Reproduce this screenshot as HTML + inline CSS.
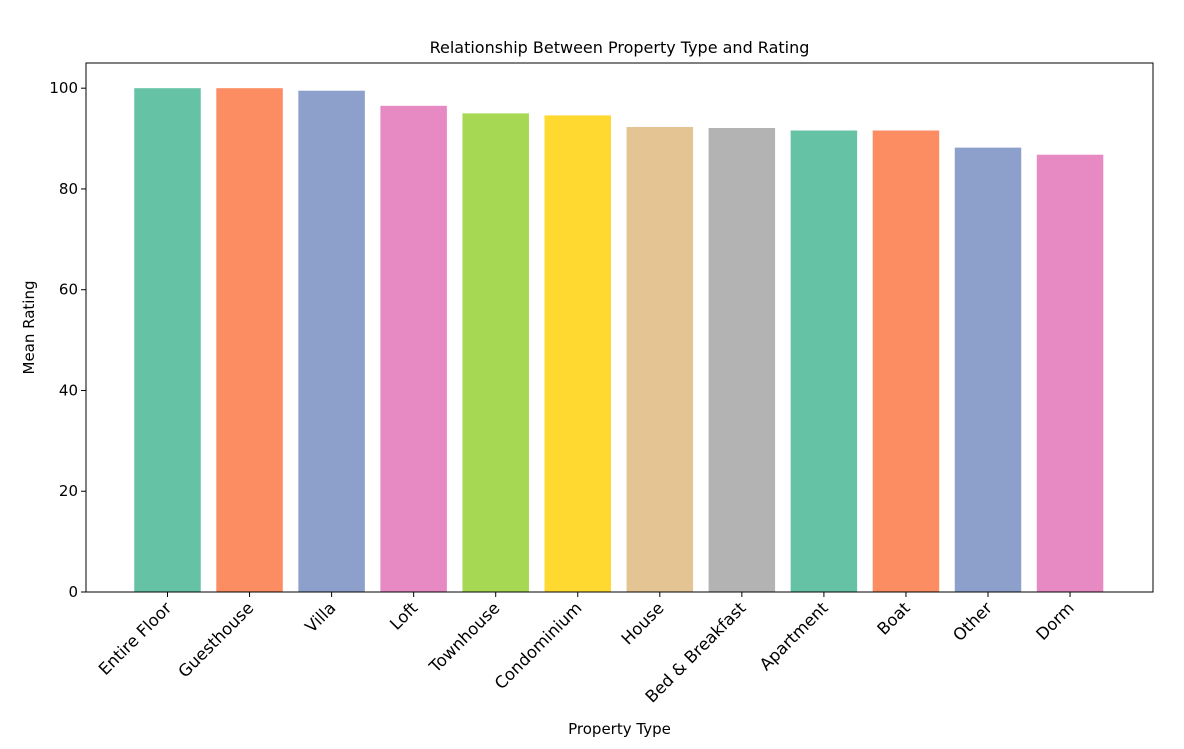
<!DOCTYPE html>
<html><head><meta charset="utf-8"><style>
body{margin:0;background:#fff;}
svg text{font-family:"DejaVu Sans","Liberation Sans",sans-serif;fill:#000;}
</style></head><body>
<svg width="1184" height="744">
<g id="plot"></g>
</svg>
<script>
const categories=["Entire Floor","Guesthouse","Villa","Loft","Townhouse","Condominium","House","Bed & Breakfast","Apartment","Boat","Other","Dorm"];
const values=[100,100,99.5,96.5,95,94.6,92.3,92.1,91.6,91.6,88.2,86.8];
const colors=["#66c2a5","#fc8d62","#8da0cb","#e78ac3","#a6d854","#ffd92f","#e5c494","#b3b3b3","#66c2a5","#fc8d62","#8da0cb","#e78ac3"];
const yTicks=[0,20,40,60,80,100];
const L=86,R=1153,T=63,B=592;
const x0=167.5,step=82.05,ymax=105;
const xs=i=>x0+i*step;
const ys=v=>B-v/ymax*(B-T);
const NS="http://www.w3.org/2000/svg";
const g=document.getElementById('plot');
function mk(t,a,txt){const e=document.createElementNS(NS,t);for(const k in a)e.setAttribute(k,a[k]);if(txt!==undefined)e.textContent=txt;g.appendChild(e);return e;}
const bw=66.5;
values.forEach((v,i)=>{
 const r=mk('rect',{x:xs(i)-bw/2,y:ys(v),width:bw,height:B-ys(v),fill:colors[i]});
 
 
 mk('line',{x1:xs(i),x2:xs(i),y1:B,y2:B+5,stroke:'#000'});
 const ax=xs(i)+5,ay=B+17;
 const t=mk('text',{x:ax,y:ay,'font-size':16.5,'text-anchor':'end',transform:`rotate(-45 ${ax} ${ay})`},categories[i]);
 
 
});
yTicks.forEach(v=>{
 mk('line',{x1:L-5,x2:L,y1:ys(v),y2:ys(v),stroke:'#000'});
 const t=mk('text',{x:L-8,y:ys(v)+5,'font-size':15,'text-anchor':'end'},v);
 
 
});
const f=mk('rect',{x:L,y:T,width:R-L,height:B-T,fill:'none',stroke:'#000','stroke-width':1});


let t=mk('text',{x:(L+R)/2,y:53,'font-size':16,'text-anchor':'middle'},'Relationship Between Property Type and Rating');


t=mk('text',{x:(L+R)/2,y:734,'font-size':15,'text-anchor':'middle'},'Property Type');


t=mk('text',{x:34,y:(T+B)/2,'font-size':15,'text-anchor':'middle',transform:`rotate(-90 34 ${(T+B)/2})`},'Mean Rating');


</script>
</body></html>
